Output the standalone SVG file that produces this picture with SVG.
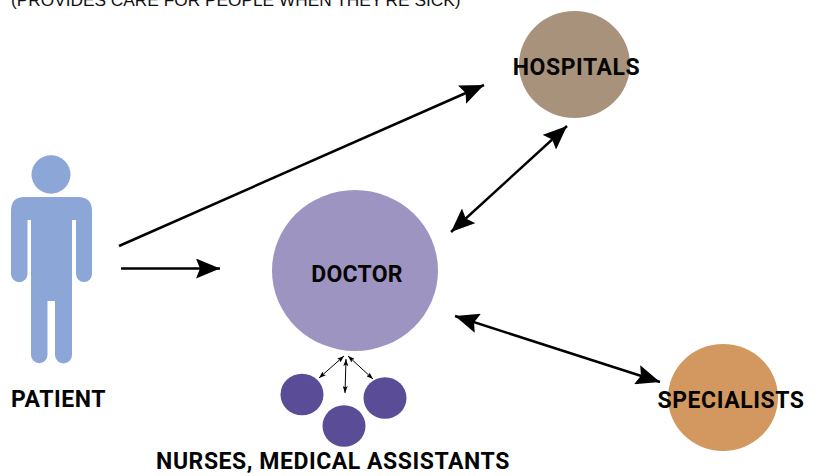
<svg xmlns="http://www.w3.org/2000/svg" width="819" height="476" viewBox="0 0 819 476">
<style>
.l{font-family:"Roboto","Liberation Sans",sans-serif;font-weight:700;font-size:23px;letter-spacing:.55px;fill:#050505}
.c{fill:none;stroke:#000;stroke-width:2.5}
.s{fill:none;stroke:#000;stroke-width:1}
</style>
<defs>
<marker id="a" markerUnits="userSpaceOnUse" markerWidth="24" markerHeight="20" viewBox="0 0 24 20" refX="24" refY="10" orient="auto-start-reverse"><path d="M0 0L24 10L0 20L4 10Z" fill="#000"/></marker>
<marker id="b" markerUnits="userSpaceOnUse" markerWidth="7" markerHeight="5" viewBox="0 0 7 5" refX="7" refY="2.500" orient="auto-start-reverse"><path d="M0 0L7 2.500L0 5L1.500 2.500Z" fill="#000"/></marker>
</defs>
<text x="11" y="5.500" font-family="Liberation Sans,sans-serif" font-size="17.300" fill="#111">(PROVIDES CARE FOR PEOPLE WHEN THEY'RE SICK)</text>
<g id="patient">
<ellipse cx="51" cy="174.500" rx="19.500" ry="19.200" fill="#8ca6d8"/>
<path d="M24 197H78Q92 197 92 211V274A8 8 0 0 1 76 274V220H72V355A8 8 0 0 1 55 355V301H47.500V355A8 8 0 0 1 31 355V220H27.500V274A8 8 0 0 1 11 274V211Q11 197 24 197Z" fill="#8ca6d8"/>
<text class="l" x="11" y="406.500">PATIENT</text>
</g>
<g id="doctor">
<ellipse cx="355" cy="270.500" rx="83" ry="80.500" fill="#9e94c2"/>
<text class="l" x="357" y="282" text-anchor="middle" style="letter-spacing:.25px">DOCTOR</text>
</g>
<g id="hospitals">
<ellipse cx="574.500" cy="64.500" rx="55.500" ry="53.500" fill="#a8927c"/>
<text class="l" x="576.500" y="74.500" text-anchor="middle">HOSPITALS</text>
</g>
<g id="specialists">
<ellipse cx="723" cy="397.500" rx="55" ry="53.500" fill="#d3985f"/>
<text class="l" x="731" y="407.500" text-anchor="middle">SPECIALISTS</text>
</g>
<g id="nurses">
<ellipse cx="302" cy="394.500" rx="21.500" ry="20.800" fill="#5b4c98"/>
<ellipse cx="344" cy="426" rx="21.500" ry="20.800" fill="#5b4c98"/>
<ellipse cx="385" cy="398" rx="21.500" ry="20.800" fill="#5b4c98"/>
<text class="l" x="333" y="469" text-anchor="middle">NURSES, MEDICAL ASSISTANTS</text>
</g>
<g id="connectors">
<path class="c" d="M119 246L484 85" marker-end="url(#a)"/>
<path class="c" d="M121 268.500H220" marker-end="url(#a)"/>
<path class="c" d="M451 232L567 126" marker-start="url(#a)" marker-end="url(#a)"/>
<path class="c" d="M455 316L660 382" marker-start="url(#a)" marker-end="url(#a)"/>
<path class="s" d="M319 378L344 356" marker-start="url(#b)" marker-end="url(#b)"/>
<path class="s" d="M345 393L346 359" marker-start="url(#b)" marker-end="url(#b)"/>
<path class="s" d="M373 379L348 356" marker-start="url(#b)" marker-end="url(#b)"/>
</g>
</svg>
